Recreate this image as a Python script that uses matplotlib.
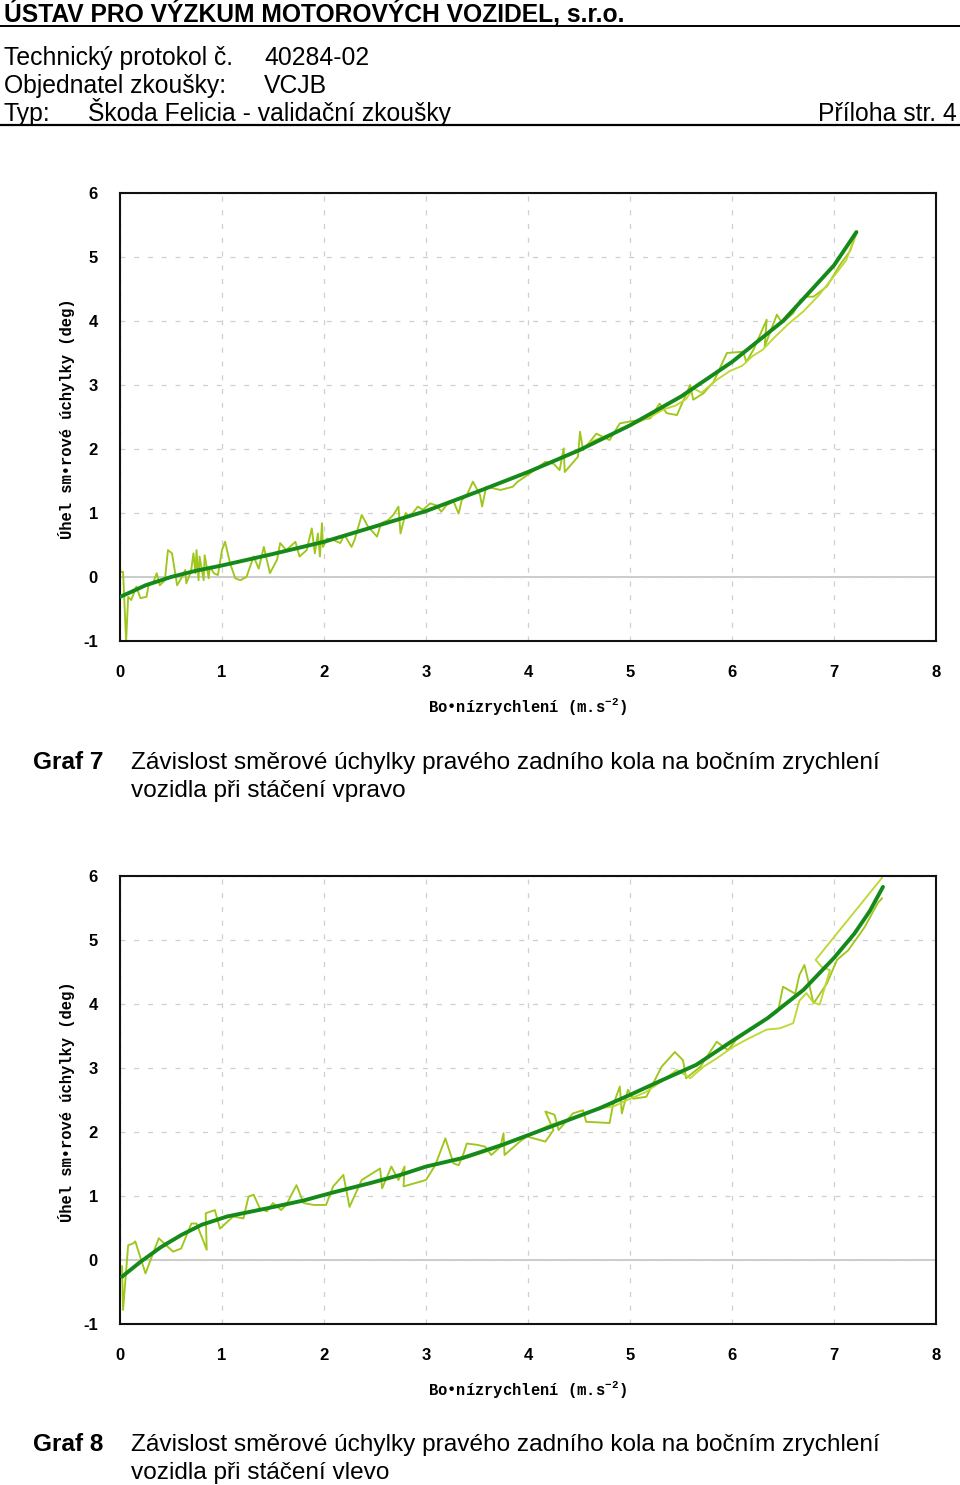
import matplotlib
matplotlib.use("Agg")
import matplotlib.pyplot as plt
from matplotlib.lines import Line2D

plt.rcParams['axes.unicode_minus'] = False
plt.rcParams['mathtext.default'] = 'regular'

# ---------------- data ----------------
x_ticks = [0, 1, 2, 3, 4, 5, 6, 7, 8]
y_ticks = [-1, 0, 1, 2, 3, 4, 5, 6]
x_tick_labels = ['0', '1', '2', '3', '4', '5', '6', '7', '8']
y_tick_labels = ['-1', '0', '1', '2', '3', '4', '5', '6']

# Graf 7 - fitted curve
fit7_x = [0.0, 0.1, 0.25, 0.5, 0.75, 1.0, 1.25, 1.5, 2.0, 2.5, 3.0, 3.5, 4.0, 4.5, 5.0, 5.5, 6.0, 6.5, 7.0, 7.22]
fit7_y = [-0.31, -0.24, -0.13, 0.0, 0.1, 0.18, 0.27, 0.36, 0.55, 0.79, 1.03, 1.33, 1.64, 1.98, 2.37, 2.82, 3.36, 4.0, 4.87, 5.39]

# Graf 7 - measured (run a)
meas7a_x = [0.0, 0.03, 0.06, 0.08, 0.11, 0.16, 0.20, 0.26, 0.28, 0.33, 0.36, 0.39, 0.44, 0.47, 0.51, 0.56,
            0.60, 0.64, 0.65, 0.69, 0.70, 0.72, 0.74, 0.75, 0.77, 0.78, 0.82, 0.83, 0.87, 0.88, 0.92, 0.96,
            1.00, 1.03, 1.08, 1.13, 1.18, 1.24, 1.31, 1.36, 1.41, 1.47, 1.54, 1.57, 1.63, 1.72, 1.76, 1.83,
            1.88, 1.91, 1.94, 1.96, 1.98, 1.99, 2.03, 2.09, 2.16,
            2.20, 2.27, 2.30, 2.37, 2.43, 2.52, 2.56, 2.63, 2.68, 2.73, 2.75, 2.80, 2.84, 2.92, 2.97, 3.04,
            3.10, 3.15, 3.20, 3.27, 3.32, 3.35, 3.40, 3.46, 3.53, 3.55, 3.59, 3.73, 3.85, 3.90, 4.02, 4.17,
            4.25, 4.31, 4.35, 4.36, 4.49, 4.51, 4.54, 4.67, 4.80, 4.90, 5.00, 5.20, 5.29, 5.36, 5.46, 5.59,
            5.62, 5.72, 5.82, 5.95, 6.11, 6.14, 6.21, 6.34, 6.32, 6.44, 6.49, 6.60, 6.67, 6.73, 6.80, 6.93,
            7.06, 7.16, 7.22]
meas7a_y = [0.08, 0.08, -1.01, -0.31, -0.36, -0.15, -0.33, -0.31, -0.13, -0.07, 0.06, -0.13, -0.05, 0.42, 0.37, -0.13,
            -0.02, 0.11, -0.10, 0.06, 0.13, 0.37, 0.06, 0.42, -0.05, 0.32, -0.05, 0.34, -0.02, 0.16, 0.06, 0.03,
            0.42, 0.55, 0.21, -0.02, -0.05, 0.0, 0.32, 0.13, 0.47, 0.06, 0.27, 0.53, 0.42, 0.55, 0.32, 0.42,
            0.76, 0.37, 0.68, 0.32, 0.84, 0.47, 0.60, 0.58, 0.53,
            0.66, 0.47, 0.58, 0.97, 0.79, 0.63, 0.84, 0.89, 0.97, 1.10, 0.68, 1.00, 0.94, 1.10, 1.05, 1.15,
            1.12, 1.02, 1.12, 1.18, 0.99, 1.20, 1.28, 1.49, 1.28, 1.10, 1.41, 1.36, 1.41, 1.49, 1.62, 1.80,
            1.77, 1.67, 2.01, 1.64, 1.88, 2.27, 1.98, 2.24, 2.14, 2.40, 2.43, 2.48, 2.71, 2.56, 2.53, 3.00,
            2.77, 2.87, 3.05, 3.50, 3.52, 3.36, 3.55, 4.02, 3.60, 4.10, 3.97, 4.12, 4.33, 4.38, 4.38, 4.54,
            4.88, 5.10, 5.37]

# Graf 7 - measured (run b)
meas7b_x = [4.60, 4.75, 4.90, 5.05, 5.20, 5.33, 5.45, 5.55, 5.62, 5.70, 5.85, 5.98, 6.10, 6.20, 6.30, 6.42, 6.55, 6.70, 6.85, 7.00, 7.12, 7.20]
meas7b_y = [2.10, 2.20, 2.28, 2.40, 2.50, 2.62, 2.68, 2.78, 2.95, 2.88, 3.08, 3.22, 3.30, 3.45, 3.55, 3.75, 3.95, 4.15, 4.40, 4.70, 4.95, 5.30]

# Graf 8 - fitted curve
fit8_x = [0.02, 0.2, 0.4, 0.6, 0.8, 1.05, 1.45, 1.8, 2.1, 2.45, 2.75, 3.0, 3.35, 3.75, 4.05, 4.4, 4.7, 5.0, 5.3, 5.65, 6.0, 6.35, 6.7, 7.0, 7.2, 7.35, 7.48]
fit8_y = [-0.26, -0.03, 0.2, 0.39, 0.55, 0.68, 0.81, 0.93, 1.06, 1.2, 1.33, 1.46, 1.59, 1.8, 1.98, 2.19, 2.37, 2.58, 2.8, 3.05, 3.42, 3.78, 4.22, 4.72, 5.1, 5.45, 5.83]

# Graf 8 - measured (run a)
meas8a_x = [0.02, 0.03, 0.08, 0.13, 0.15, 0.25, 0.38, 0.52, 0.60, 0.70, 0.75, 0.85, 0.84, 0.93, 0.98, 1.11,
            1.21, 1.26, 1.31, 1.37, 1.44, 1.50, 1.58, 1.63, 1.73, 1.80,
            1.90, 2.02, 2.09, 2.19, 2.25, 2.37, 2.55, 2.57, 2.66, 2.73, 2.79, 2.78, 3.00, 3.09, 3.19, 3.27,
            3.32, 3.37, 3.40, 3.50, 3.58, 3.64, 3.73, 3.76, 3.77, 3.92, 3.99, 4.17, 4.25, 4.17, 4.26, 4.30,
            4.44, 4.54, 4.57, 4.80, 4.83, 4.90, 4.92, 4.98,
            5.03, 5.16, 5.31, 5.44, 5.52, 5.55, 5.69, 5.85, 5.96, 6.04, 6.22, 6.45, 6.50, 6.62, 6.66, 6.71,
            6.80, 6.93, 7.03, 7.14, 7.30, 7.43, 7.47]
meas8a_y = [-0.10, -0.78, 0.23, 0.26, 0.29, -0.21, 0.34, 0.13, 0.18, 0.57, 0.57, 0.16, 0.73, 0.78, 0.49, 0.68,
            0.65, 0.99, 1.02, 0.81, 0.76, 0.89, 0.78, 0.86, 1.17, 0.89,
            0.86, 0.86, 1.15, 1.33, 0.83, 1.25, 1.43, 1.12, 1.46, 1.25, 1.46, 1.15, 1.25, 1.48, 1.90, 1.51,
            1.48, 1.67, 1.82, 1.80, 1.77, 1.64, 1.77, 1.98, 1.64, 1.85, 1.93, 1.85, 2.03, 2.32, 2.27, 2.03,
            2.29, 2.34, 2.16, 2.14, 2.40, 2.71, 2.29, 2.66,
            2.52, 2.55, 3.02, 3.25, 3.12, 2.84, 3.02, 3.41, 3.28, 3.44, 3.65, 3.88, 4.27, 4.16, 4.45, 4.61,
            4.01, 4.32, 4.69, 4.84, 5.20, 5.58, 5.65]

# Graf 8 - measured (run b)
meas8b_x = [3.30, 3.45, 3.60, 3.75, 3.90, 4.00, 4.10, 4.20, 4.30, 4.45, 4.60, 4.75, 4.84, 5.00, 5.15, 5.30,
            5.46, 5.59, 5.72, 5.85, 6.01, 6.15, 6.34, 6.47, 6.60, 6.66, 6.73, 6.80, 6.86, 6.96, 6.88, 6.82, 7.47]
meas8b_y = [1.55, 1.62, 1.70, 1.78, 1.90, 1.95, 2.02, 2.10, 2.15, 2.22, 2.32, 2.38, 2.40, 2.52, 2.62, 2.78,
            2.97, 2.84, 3.02, 3.15, 3.33, 3.45, 3.60, 3.62, 3.70, 4.05, 4.17, 4.02, 3.99, 4.53, 4.58, 4.69, 5.97]

# ---------------- figure ----------------
W, H = 960, 1485
fig = plt.figure(figsize=(W / 100, H / 100), dpi=100)

def fx(px):
    return px / W

def fy(py):
    return 1 - py / H

HDR = ['Liberation Sans Narrow', 'Liberation Sans', 'DejaVu Sans']
SANS = ['Liberation Sans', 'DejaVu Sans']
MONO = ['Liberation Mono', 'DejaVu Sans Mono']

# header
fig.text(fx(4), fy(22), 'ÚSTAV PRO VÝZKUM MOTOROVÝCH VOZIDEL, s.r.o.', family=HDR,
         fontsize=17.7, fontweight='bold', va='baseline', ha='left')
fig.add_artist(Line2D([0, 1], [fy(26), fy(26)], color='black', lw=1.4, transform=fig.transFigure))
HS = 17.8
fig.text(fx(4), fy(65), 'Technický protokol č.', family=HDR, fontsize=HS, va='baseline')
fig.text(fx(264), fy(65), '40284-02', family=HDR, fontsize=HS, va='baseline')
fig.text(fx(4), fy(93), 'Objednatel zkoušky:', family=HDR, fontsize=HS, va='baseline')
fig.text(fx(264), fy(93), 'VCJB', family=HDR, fontsize=HS, va='baseline')
fig.text(fx(4), fy(121), 'Typ:', family=HDR, fontsize=HS, va='baseline')
fig.text(fx(88), fy(121), 'Škoda Felicia - validační zkoušky', family=HDR, fontsize=HS, va='baseline')
fig.text(fx(957), fy(121), 'Příloha str. 4', family=HDR, fontsize=HS, va='baseline', ha='right')
fig.add_artist(Line2D([0, 1], [fy(125), fy(125)], color='black', lw=1.6, transform=fig.transFigure))

LIGHT1 = '#9fc61c'
LIGHT2 = '#bfd834'
DARK = '#158a1a'

def make_axes(top_px, bottom_px, meas, fit):
    ax = fig.add_axes([fx(120), fy(bottom_px), fx(936) - fx(120), fy(top_px) - fy(bottom_px)])
    ax.set_xlim(0, 8)
    ax.set_ylim(-1, 6)
    ax.set_xticks(x_ticks)
    ax.set_xticklabels(x_tick_labels)
    ax.set_yticks(y_ticks)
    ax.set_yticklabels(y_tick_labels)
    ax.tick_params(length=0)
    ax.tick_params(axis='y', pad=16)
    ax.tick_params(axis='x', pad=17)
    for lab in ax.get_xticklabels() + ax.get_yticklabels():
        lab.set_family(HDR)
        lab.set_fontweight('bold')
        lab.set_fontsize(12)
    ax.grid(True, color='#cfcfcf', lw=0.9, linestyle=(0, (4, 7)))
    ax.axhline(0, color='#bdbdbd', lw=1.1, zorder=1)
    for s in ax.spines.values():
        s.set_linewidth(1.5)
        s.set_color('#111111')
    for (mx, my, c) in meas:
        ax.plot(mx, my, color=c, lw=1.35, zorder=2)
    ax.plot(fit[0], fit[1], color=DARK, lw=2.8, zorder=3, solid_capstyle='round')
    ax.text(-0.066, 0.495, 'Úhel sm•rové úchylky (deg)', transform=ax.transAxes, rotation=90,
            ha='center', va='center', family=MONO, fontsize=11.2, fontweight='bold')
    ax.text(0.499, -0.147, r'Bo•nízrychlení (m.s$^{-2}$)', transform=ax.transAxes,
            ha='center', va='center', family=MONO, fontsize=11.2, fontweight='bold')
    return ax

make_axes(193, 641, [(meas7a_x, meas7a_y, LIGHT1), (meas7b_x, meas7b_y, LIGHT2)], (fit7_x, fit7_y))
make_axes(876, 1324, [(meas8a_x, meas8a_y, LIGHT1), (meas8b_x, meas8b_y, LIGHT2)], (fit8_x, fit8_y))

# captions
CS = 17.6
fig.text(fx(33), fy(769), 'Graf 7', family=SANS, fontsize=CS, fontweight='bold', va='baseline')
fig.text(fx(131), fy(769), 'Závislost směrové úchylky pravého zadního kola na bočním zrychlení',
         family=SANS, fontsize=CS, va='baseline')
fig.text(fx(131), fy(797), 'vozidla při stáčení vpravo', family=SANS, fontsize=CS, va='baseline')

fig.text(fx(33), fy(1451), 'Graf 8', family=SANS, fontsize=CS, fontweight='bold', va='baseline')
fig.text(fx(131), fy(1451), 'Závislost směrové úchylky pravého zadního kola na bočním zrychlení',
         family=SANS, fontsize=CS, va='baseline')
fig.text(fx(131), fy(1479), 'vozidla při stáčení vlevo', family=SANS, fontsize=CS, va='baseline')

fig.savefig('out.png', dpi=100)
